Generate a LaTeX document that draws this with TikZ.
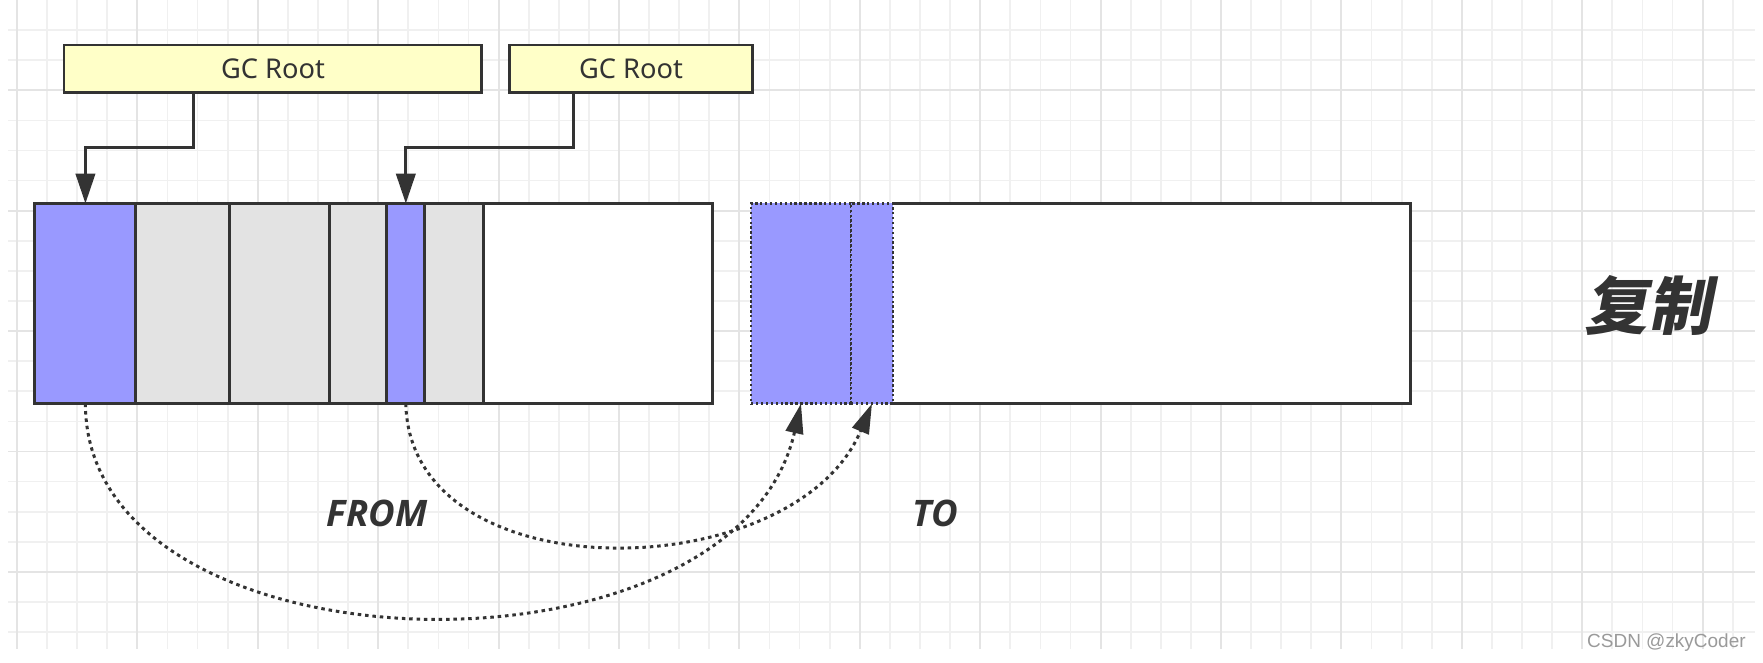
\documentclass[tikz,border=0pt]{standalone}
\usepackage{fontspec}
\setmainfont{Noto Sans}
\newfontfamily\tagfont{Open Sans}
\newfontfamily\cjkfont{Noto Sans CJK SC}[FakeSlant=0.2]
\newfontfamily\markfont{Liberation Sans}
\usepackage{tikz}
\usetikzlibrary{arrows.meta, positioning}
\definecolor{colorLine}{HTML}{333333}
\definecolor{colorLive}{HTML}{9999FF}
\definecolor{colorDead}{HTML}{E3E3E3}
\definecolor{colorRoot}{HTML}{FFFFC8}
\definecolor{colorGrid}{HTML}{F0F0F0}
\definecolor{colorGridMajor}{HTML}{E4E4E4}
\definecolor{colorMark}{HTML}{9A9A9A}
\tikzset{
  gridline/.style={colorGrid, line width=1pt},
  gridmajor/.style={colorGridMajor, line width=1.1pt},
  rootbox/.style={draw=colorLine, line width=1.7pt, fill=colorRoot, minimum height=0.96cm, inner sep=0pt, outer sep=0pt, text=colorLine, font=\fontsize{15.5}{18}\selectfont},
  cell/.style={draw=colorLine, line width=1.7pt, minimum height=4.004cm, inner sep=0pt, outer sep=0pt},
  livecell/.style={cell, fill=colorLive},
  deadcell/.style={cell, fill=colorDead},
  freecell/.style={cell, fill=white},
  copycell/.style={cell, fill=colorLive, line width=1.4pt, dash pattern=on 1.4pt off 1.4pt},
  rootlink/.style={draw=colorLine, line width=1.7pt, -{Triangle[length=17pt, width=11pt]}},
  copylink/.style={draw=colorLine, line width=1.7pt, dash pattern=on 2pt off 2.2pt, -{Triangle[length=17pt, width=10pt]}},
  tag/.style={text=colorLine, font={\tagfont\bfseries\itshape\fontsize{20.8}{24}\selectfont}}
}

\begin{document}
\begin{tikzpicture}[x=0.02cm, y=-0.02cm]
\useasboundingbox (0,0) rectangle (1763,662);
\fill[white] (0,0) rectangle (1763,662);
% grid paper
\foreach \k in {0,...,57} \draw[gridline] ({17+30.1*\k},0) -- ({17+30.1*\k},649);
\foreach \k in {1,...,21} \draw[gridline] (8,{30.1*\k}) -- (1755,{30.1*\k});
\foreach \k in {0,4,...,56} \draw[gridmajor] ({17+30.1*\k},0) -- ({17+30.1*\k},649);
\foreach \k in {3,7,...,19} \draw[gridmajor] (8,{30.1*\k}) -- (1755,{30.1*\k});

\node[rootbox, minimum width=8.36cm, anchor=north west] (r1) at (64,45) {GC Root};
\node[rootbox, minimum width=4.88cm, anchor=north west] (r2) at (509,45) {GC Root};

% from space
\node[livecell, minimum width=2.022cm, anchor=north west] (f1) at (34.9,203.5) {};
\node[deadcell, minimum width=1.868cm, right=0pt of f1] (f2) {};
\node[deadcell, minimum width=2cm, right=0pt of f2] (f3) {};
\node[deadcell, minimum width=1.148cm, right=0pt of f3] (f4) {};
\node[livecell, minimum width=0.764cm, right=0pt of f4] (f5) {};
\node[deadcell, minimum width=1.17cm, right=0pt of f5] (f6) {};
\node[freecell, minimum width=4.588cm, right=0pt of f6] (f7) {};

% to space
\node[freecell, draw=none, minimum width=13.2cm, anchor=north west] (t0) at (751,203.5) {};
\node[copycell, minimum width=2cm, anchor=north west] (t1) at (751,203.5) {};
\node[copycell, minimum width=0.84cm, right=0pt of t1] (t2) {};
\draw[colorLine, line width=1.7pt] (t2.north east) -- (t0.north east) -- (t0.south east) -- (t2.south east);

\draw[rootlink] ([xshift=2.588cm]r1.south west) -- ++(0,54.3) -| (f1.north);
\draw[rootlink] ([xshift=1.288cm]r2.south west) -- ++(0,54.3) -| (f5.north);

\draw[copylink] (f1.south) .. controls +(0,275) and +(-66,290) .. (t1.south);
\draw[copylink] (f5.south) .. controls +(4,192) and +(-77,184) .. (t2.south);

\node[tag] (from) at (377,513) {FROM};
\node[tag] (to) at (935,513) {TO};
\node[text=colorLine, font={\cjkfont\bfseries\fontsize{36}{40}\selectfont}] (copy) at (1648,305) {复制};
\node[anchor=base east, text=colorMark, font={\markfont\fontsize{10.8}{12}\selectfont}, inner sep=0pt] (mark) at (1746,647) {CSDN @zkyCoder};
\end{tikzpicture}
\end{document}
